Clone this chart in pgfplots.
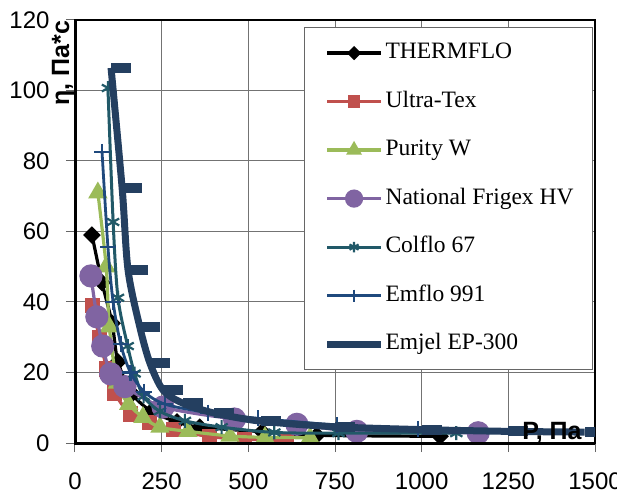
\documentclass[border=0pt]{standalone}
\usepackage{fontspec}
\setmainfont{Liberation Serif}
\newfontfamily\arial{Liberation Sans}
\usepackage{pgfplots}
\pgfplotsset{compat=1.18}

\definecolor{cThermflo}{RGB}{0,0,0}
\definecolor{cUltra}{HTML}{C0504D}
\definecolor{cPurity}{HTML}{9BBB59}
\definecolor{cFrigex}{HTML}{8064A2}
\definecolor{cColflo}{HTML}{215968}
\definecolor{cEmflo}{HTML}{1F497D}
\definecolor{cEmjel}{HTML}{243F60}

\begin{document}
\begin{tikzpicture}
\begin{axis}[
    scale only axis,
    width=520pt, height=423pt,
    xmin=0, xmax=1500, ymin=0, ymax=120,
    xtick={0,250,...,1500}, ytick={0,20,...,120},
    grid=major,
    major grid style={black!55, line width=1pt},
    axis line style={line width=2pt},
    tick pos=left, tick align=outside,
    major tick length=9pt,
    tick style={black!60, line width=1pt},
    ticklabel style={font=\arial\fontsize{24}{24}\selectfont},
    xticklabel shift=17pt, yticklabel shift=13pt,
    /pgf/number format/assume math mode=true,
    /pgf/number format/1000 sep={},
    clip marker paths=true,
    legend cell align=left,
    legend image code/.code={
        \draw[mark repeat=2, mark phase=2, #1]
            plot coordinates {(0pt,0pt) (27pt,0pt) (54pt,0pt)};},
    legend image post style={every mark/.append style={scale=0.75}},
    legend style={
        at={(rel axis cs:0.996,0.983)}, anchor=north east,
        draw=black!60, line width=0.8pt, fill=white,
        font=\fontsize{23.5}{28}\selectfont,
        inner xsep=19pt, inner ysep=15pt,
        row sep=27.5pt,
        nodes={inner sep=0pt, text height=16pt, text depth=5pt},
        /tikz/column 1/.style={column sep=1pt},
    },
    every axis plot/.append style={smooth, tension=0.5, line width=3.2pt},
]
% THERMFLO
\addplot[color=cThermflo, mark=square*, mark size=4.6pt,
         mark options={rotate=45, solid}]
    coordinates {(49,59) (78,45.5) (107,34) (124,23) (165,14) (220,9)
                 (294,6) (360,4.5) (540,3.2) (698,2.2) (1053,1.9)};
% Ultra-Tex
\addplot[color=cUltra, mark=square*, mark size=6pt]
    coordinates {(50,39) (70,30) (92,21) (115,14.2) (159,8.2) (216,5.8)
                 (285,3.8) (389,1.8) (490,1.1) (611,0.7)};
% Purity W
\addplot[color=cPurity, mark=triangle*, mark size=8pt]
    coordinates {(66,71) (90,50) (99,33) (122,17) (155,11) (196,7.3)
                 (245,4.5) (326,3.3) (447,2) (548,1.6) (678,1.5)};
% National Frigex HV
\addplot[color=cFrigex, mark=*, mark size=10pt]
    coordinates {(46,47.4) (63,35.8) (80,27.5) (103,19.6) (144,16)
                 (254,10.2) (460,6.8) (640,5.3) (813,3.3) (1163,2.9)};
% Colflo 67
\addplot[color=cColflo, line width=3pt, mark=asterisk, mark size=7pt,
         mark options={line width=2.2pt}]
    coordinates {(95,100.7) (110,62.7) (124,41.2) (152,27.5) (172,19.7)
                 (198,13.2) (245,9) (317,6.3) (423,4.5) (575,3.0)
                 (760,2.8) (1100,2.8)};
% Emflo 991
\addplot[color=cEmflo, line width=2.8pt, mark=+, mark size=8pt,
         mark options={line width=2.2pt}]
    coordinates {(78,82.6) (95,55.6) (110,40) (132,28) (160,20) (200,14.5)
                 (260,11) (384,8.6) (528,7) (756,5.1) (990,4.0)};
\addlegendimage{color=cEmjel, line width=7pt}
% Emjel EP-300
\addplot[forget plot, color=cEmjel, line width=7pt, mark=-, mark size=10pt,
         mark options={xshift=10pt, line width=10pt}]
    coordinates {(104,106.4) (136,72.3) (153,49.1) (187,32.9) (216,22.7)
                 (254,15) (311,11.3) (401,8.5) (536,6.2) (750,4.6)
                 (1000,3.8) (1250,3.3) (1470,3.1)};
\legend{THERMFLO, Ultra-Tex, Purity W, National Frigex HV,
        Colflo 67, Emflo 991, Emjel EP-300}
\coordinate (bbsw) at (rel axis cs:0,0);
\coordinate (bbne) at (rel axis cs:1,1);
\end{axis}
\draw[line width=3pt] ([yshift=-1pt]bbsw |- bbne) -- (bbsw) -- (bbsw -| bbne);
\node[rotate=90, font=\arial\bfseries\fontsize{25}{25}\selectfont]
    at ([xshift=-12pt, yshift=380pt]bbsw) {η, Па*с};
\node[font=\arial\bfseries\fontsize{25}{25}\selectfont]
    at ([xshift=477pt, yshift=10pt]bbsw) {P, Па};
\pgfresetboundingbox
\path[use as bounding box] ([xshift=-75pt, yshift=-57pt]bbsw)
    rectangle ([xshift=22pt, yshift=20pt]bbne);
\end{tikzpicture}
\end{document}
